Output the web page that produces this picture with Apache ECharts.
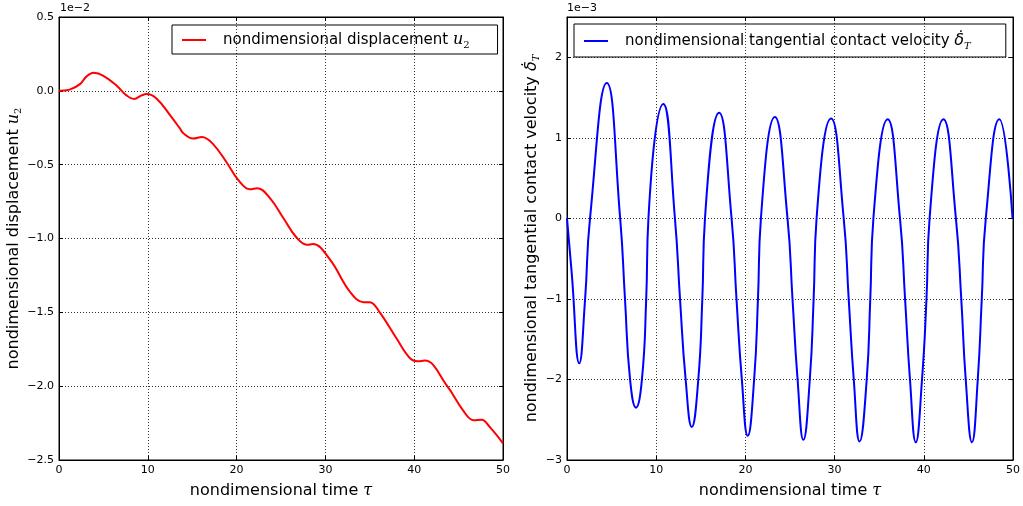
<!DOCTYPE html>
<html>
<head>
<meta charset="utf-8">
<script src="https://cdn.jsdelivr.net/npm/echarts@6/dist/echarts.min.js"></script>
<style>
  html, body { margin: 0; padding: 0; background: #fff; }
  #chart { width: 1023px; height: 506px; }
</style>
</head>
<body>
<div id="chart"></div>
<script>
// left panel: displacement u2, values in units of 1e-2
const tauDisp = [0, 1.2, 2.4, 3.1, 3.9, 5.0, 6.5, 7.6, 8.45, 9.3, 9.9, 11.0, 12.5, 13.6, 14.0, 15.1, 16.1, 17.4, 18.9, 20.2,
  21.5, 22.35, 23.8, 25.3, 26.7, 27.9, 28.6, 30.5, 32.8, 34.3, 35.0, 36.1, 38.0, 39.5, 40.4, 41.2, 43.7, 45.5, 46.7, 47.6, 48.5, 50];
const dispU2 = [0, 0.008, 0.047, 0.098, 0.122, 0.102, 0.035, -0.031, -0.055, -0.031, -0.022, -0.053, -0.164, -0.253, -0.287, -0.323, -0.312, -0.364, -0.487, -0.605,
  -0.667, -0.659, -0.73, -0.865, -0.99, -1.042, -1.038, -1.142, -1.364, -1.431, -1.431, -1.498, -1.676, -1.809, -1.831, -1.827, -1.998, -2.164, -2.231, -2.227, -2.276, -2.387];

// right panel: tangential contact velocity, values in units of 1e-3
// peaks, troughs and the level crossings
const tauVel = [0, 0.53, 1.38, 2.03, 2.58,
  4.46, 5.96, 6.5, 7.07, 7.73, 8.4, 8.88, 9.13,
  10.8, 12.1, 12.67, 13.3, 13.99, 14.72, 15.17, 15.47,
  17.05, 18.45, 19.0, 19.6, 20.26, 20.98, 21.41, 21.74,
  23.3, 24.72, 25.28, 25.85, 26.5, 27.22, 27.65, 27.98,
  29.6, 31.02, 31.58, 32.15, 32.8, 33.6, 34.0, 34.35,
  35.95, 37.33, 37.9, 38.45, 39.1, 39.8, 40.3, 40.65,
  42.2, 43.6, 44.2, 44.7, 45.4, 46.05, 46.5, 46.95,
  48.47, 49.95];
const velDeltaT = [0, -0.68, -1.80, -1, 0,
  1.68, 0, -1, -2, -2.35, -2, -1, 0,
  1.42, 0, -1, -2, -2.59, -2, -1, 0,
  1.31, 0, -1, -2, -2.70, -2, -1, 0,
  1.26, 0, -1, -2, -2.75, -2, -1, 0,
  1.24, 0, -1, -2, -2.77, -2, -1, 0,
  1.23, 0, -1, -2, -2.78, -2, -1, 0,
  1.23, 0, -1, -2, -2.78, -2, -1, 0,
  1.23, 0];

const xRange = [0, 50, 10];          // min, max, step
const yRangeDisp = [-2.5, 0.5, 0.5];
const yRangeVel = [-3, 2.5, 1];
const offsetTexts = ["1e\u22122", "1e\u22123"];

const FONT = "DejaVu Sans";
const mathRich = {
  i: { fontFamily: "DejaVu Serif", fontStyle: "italic", fontSize: 16, lineHeight: 20, color: "#000" },
  d: { fontFamily: "DejaVu Sans", fontStyle: "italic", fontSize: 16, lineHeight: 20, color: "#000" },
  s: { fontFamily: "DejaVu Serif", fontStyle: "italic", fontSize: 10, lineHeight: 11, verticalAlign: "bottom", color: "#000" },
  n: { fontFamily: "DejaVu Serif", fontSize: 10, lineHeight: 11, verticalAlign: "bottom", color: "#000" }
};

function minus(s) { return String(s).replace("-", "\u2212"); }

function pairs(xs, ys) { return xs.map((x, i) => [x, ys[i]]); }

function xAxes(grid) {
  const base = {
    type: "value", gridIndex: grid, min: xRange[0], max: xRange[1], interval: xRange[2],
    axisLine: { show: true, onZero: false, lineStyle: { color: "#000", width: 1 } },
    axisTick: { show: true, inside: true, length: 4, lineStyle: { color: "#000" } }
  };
  return [
    Object.assign({}, base, {
      position: "bottom",
      name: "nondimensional time {i|\u03c4}",
      nameLocation: "middle", nameGap: 21,
      nameTextStyle: { fontFamily: FONT, fontSize: 16, color: "#000", lineHeight: 20, rich: mathRich },
      axisLabel: { fontFamily: FONT, fontSize: 11, color: "#000", margin: 5 },
      splitLine: { show: true, lineStyle: { color: "#333", type: [1, 2], width: 1 } }
    }),
    Object.assign({}, base, { position: "top", axisLabel: { show: false }, splitLine: { show: false } })
  ];
}

function yAxes(grid, range, name, gap, fmt) {
  const base = {
    type: "value", gridIndex: grid, min: range[0], max: range[1], interval: range[2],
    axisLine: { show: true, onZero: false, lineStyle: { color: "#000", width: 1 } },
    axisTick: { show: true, inside: true, length: 4, lineStyle: { color: "#000" } }
  };
  return [
    Object.assign({}, base, {
      position: "left",
      name: name, nameLocation: "middle", nameGap: gap,
      nameTextStyle: { fontFamily: FONT, fontSize: 16, color: "#000", lineHeight: 20, rich: mathRich },
      axisLabel: { fontFamily: FONT, fontSize: 11, color: "#000", margin: 5, formatter: fmt, showMaxLabel: range[1] % range[2] === 0 },
      splitLine: { show: true, lineStyle: { color: "#333", type: [1, 2], width: 1 } }
    }),
    Object.assign({}, base, { position: "right", axisLabel: { show: false }, splitLine: { show: false } })
  ];
}

const chart = echarts.init(document.getElementById("chart"));

const dispName = "displacement";
const velName = "velocity";
const dispLabel = "nondimensional displacement {i|u}{n|2}";
const velLabel = "nondimensional tangential contact velocity {d|\u03b4\u0307}{s|T}";

chart.setOption({
  animation: false,
  backgroundColor: "#fff",
  grid: [
    { left: 59, right: 520, top: 17, bottom: 39, show: true, borderColor: "#000", borderWidth: 1 },
    { left: 567, right: 10, top: 17, bottom: 40, show: true, borderColor: "#000", borderWidth: 1 }
  ],
  xAxis: xAxes(0).concat(xAxes(1)),
  yAxis: yAxes(0, yRangeDisp, dispLabel, 29, v => minus(v.toFixed(1)))
    .concat(yAxes(1, yRangeVel, velLabel, 14, v => minus(v))),
  legend: [
    {
      data: [dispName], left: 172, top: 25, orient: "horizontal",
      borderColor: "#000", borderWidth: 1, borderRadius: 0, padding: [5, 28, 4, 10],
      icon: "rect", itemWidth: 24, itemHeight: 2,
      formatter: () => dispLabel,
      textStyle: { fontFamily: FONT, fontSize: 15, color: "#000", lineHeight: 20, padding: [0, 0, 0, 12], rich: mathRich }
    },
    {
      data: [velName], left: 574, top: 24, orient: "horizontal",
      borderColor: "#000", borderWidth: 1, borderRadius: 0, padding: [7, 35, 6, 10],
      icon: "rect", itemWidth: 24, itemHeight: 2,
      formatter: () => velLabel,
      textStyle: { fontFamily: FONT, fontSize: 15, color: "#000", lineHeight: 20, padding: [0, 0, 0, 12], rich: mathRich }
    }
  ],
  graphic: [
    { type: "text", left: 60, top: 3, style: { text: offsetTexts[0], font: "11px DejaVu Sans", fill: "#000" } },
    { type: "text", left: 567, top: 3, style: { text: offsetTexts[1], font: "11px DejaVu Sans", fill: "#000" } }
  ],
  series: [
    {
      name: dispName, type: "line", xAxisIndex: 0, yAxisIndex: 0,
      data: pairs(tauDisp, dispU2), smooth: 0.4, symbol: "none",
      lineStyle: { color: "#ff0000", width: 2 }, itemStyle: { color: "#ff0000" }
    },
    {
      name: velName, type: "line", xAxisIndex: 2, yAxisIndex: 2,
      data: pairs(tauVel, velDeltaT), smooth: 0.5, symbol: "none",
      lineStyle: { color: "#0000ff", width: 2 }, itemStyle: { color: "#0000ff" }
    }
  ]
});
</script>
</body>
</html>
